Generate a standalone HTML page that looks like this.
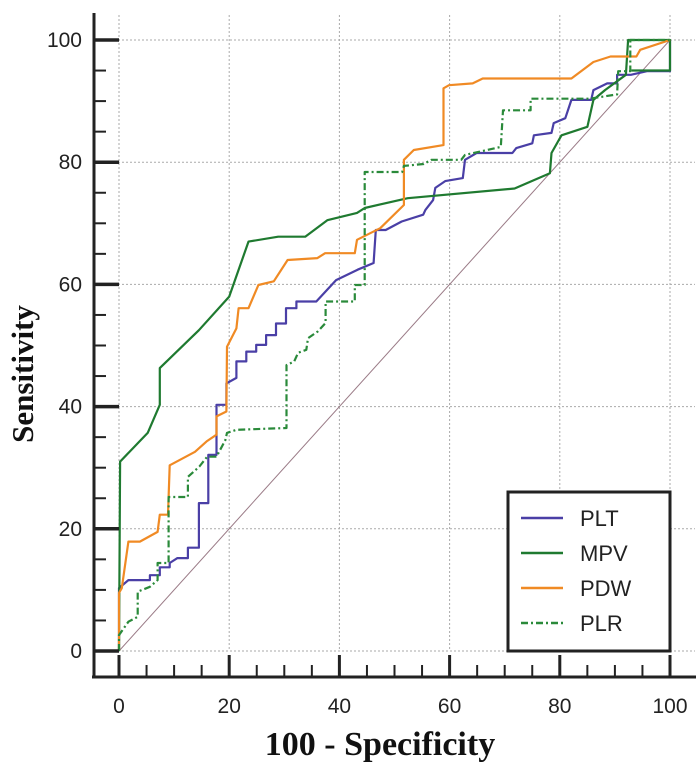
<!DOCTYPE html>
<html><head><meta charset="utf-8"><style>
html,body{margin:0;padding:0;background:#fff;}
svg{display:block;}
</style></head><body>
<svg id="chart" width="700" height="773" viewBox="0 0 700 773" xmlns="http://www.w3.org/2000/svg">
<g id="grid"></g>
<line id="diag" stroke="#9a7a86" stroke-width="1"/>
<g id="series"></g>
<g id="axes"></g>
<text transform="translate(33,374) rotate(-90)" text-anchor="middle" font-family="Liberation Serif, serif" font-weight="bold" font-size="31" fill="#111">Sensitivity</text>
<text x="380" y="755" text-anchor="middle" font-family="Liberation Serif, serif" font-weight="bold" font-size="34" fill="#111">100 - Specificity</text>
<g id="legend">
<rect x="508" y="492" width="162" height="159" fill="#fff" stroke="#222" stroke-width="3"/>
</g>
</svg>
<script>
const xTicks = [0,20,40,60,80,100];
const yTicks = [0,20,40,60,80,100];
const seriesNames = ["PLT","MPV","PDW","PLR"];
const pltX = [0,0,1.7,5.6,5.6,7.4,7.4,9.2,9.2,10.6,12.5,12.5,14.5,14.5,16.2,16.2,17.7,17.7,19.5,19.5,21.3,21.3,23.1,23.1,24.9,24.9,26.7,26.7,28.5,28.5,30.3,30.3,32.2,32.2,35.8,39.4,43.3,46.2,46.6,48.4,51.3,55.2,55.6,57.0,57.4,59.2,62.4,62.8,64.9,71.4,72.1,75.0,75.3,78.5,78.9,81.0,82.1,85.7,86.1,88.6,90.4,90.4,92.9,95.8,100,100];
const pltY = [0,10.3,11.6,11.6,12.4,12.4,13.7,13.7,14.4,15.2,15.2,16.9,16.9,24.2,24.2,32.1,32.1,40.3,40.3,43.8,44.7,47.4,47.4,49,49,50.1,50.1,51.7,51.7,53.6,53.6,56.1,56.1,57.2,57.2,60.7,62.4,63.5,68.9,68.9,70.3,71.4,72.2,73.8,75.8,76.9,77.4,80.4,81.5,81.5,82.3,83.1,84.4,84.8,86.4,87.2,90.2,90.2,91.8,92.9,92.9,94.3,94.3,94.9,94.9,100];
const mpvX = [0,0.2,5.2,7.4,7.4,14.5,20,23.5,28.9,33.8,37.8,43.2,44.6,52.4,71.8,78.2,78.5,80.3,85,86.1,88.2,92,92.4,100,100,93];
const mpvY = [0,31,35.7,40.3,46.3,52.5,58,67,67.8,67.8,70.5,71.7,72.5,74.1,75.7,78.2,81.5,84.4,85.8,90.2,91.8,94.3,100,100,95,95];
const pdwX = [0,0,0.5,1.7,3.8,7,7.4,8.9,9.2,13.8,15.9,17.7,17.7,19.5,19.6,21.3,21.7,23.5,25.3,28.1,30.6,36,37.4,42.8,43.2,47.4,51.7,51.7,53.5,58.9,58.9,59.9,64.2,66,82.1,86.1,89.2,93.9,94.6,100];
const pdwY = [0,9.5,10.3,17.9,17.9,19.5,22.3,22.3,30.4,32.6,34.3,35.4,38.4,39.2,49.8,52.8,56.1,56.1,59.9,60.5,64,64.3,65.1,65.1,67.3,69.2,73,80.4,82,82.8,92.1,92.6,92.9,93.7,93.7,96.4,97.3,97.3,98.4,100];
const plrX = [0,0,1.7,3.4,3.4,5.6,7,7,9,9,12.5,12.5,14.6,16,17.7,19.3,19.6,21.3,30.4,30.4,31.8,32.5,34,34.3,36.1,37.5,37.5,42.8,42.8,44.6,44.6,51.4,51.7,55.3,56.7,62.1,62.8,69.3,69.7,74.7,74.7,85.4,90.4,90.6,92.8,92.8,100];
const plrY = [0,2.6,4.8,5.6,9.7,10.5,11.6,14.4,14.4,25.2,25.2,28.5,30.2,31.8,31.8,34.5,35.7,36.2,36.5,46.8,47.4,48.8,49.3,51.2,52.3,53.7,57.2,57.2,59.9,59.9,78.4,78.4,79.4,79.7,80.4,80.4,81.2,82.5,88.5,88.5,90.4,90.4,91.1,94.9,94.9,100,100];

const X0=119, X1=670, Y0=651, Y1=40;
function sx(v){return X0+(X1-X0)*v/100;}
function sy(v){return Y0-(Y0-Y1)*v/100;}
const NS="http://www.w3.org/2000/svg";
function mk(tag,attrs,parent){const e=document.createElementNS(NS,tag);for(const k in attrs)e.setAttribute(k,attrs[k]);parent.appendChild(e);return e;}

const grid=document.getElementById('grid');
xTicks.forEach(t=>{const l=mk('line',{x1:sx(t),x2:sx(t),y1:15,y2:Y0,stroke:'#aaa','stroke-width':1,'stroke-dasharray':'2,2'},grid);

});
yTicks.forEach(t=>{const l=mk('line',{x1:94,x2:695,y1:sy(t),y2:sy(t),stroke:'#aaa','stroke-width':1,'stroke-dasharray':'2,2'},grid);

});

const d=document.getElementById('diag');
d.setAttribute('x1',sx(0));d.setAttribute('y1',sy(0));d.setAttribute('x2',sx(100));d.setAttribute('y2',sy(100));

const sg=document.getElementById('series');
function pts(xs,ys){return xs.map((x,i)=>sx(x).toFixed(1)+','+sy(ys[i]).toFixed(1)).join(' ');}
const specs=[
 {name:'PLT',xs:pltX,ys:pltY,c:'#4a3fa6',dash:''},
 {name:'MPV',xs:mpvX,ys:mpvY,c:'#1f7a30',dash:''},
 {name:'PDW',xs:pdwX,ys:pdwY,c:'#f08a24',dash:''},
 {name:'PLR',xs:plrX,ys:plrY,c:'#2a8a3a',dash:'7,3,2,3'}
];
specs.forEach(s=>{const p=mk('polyline',{points:pts(s.xs,s.ys),fill:'none',stroke:s.c,'stroke-width':2.2,'stroke-dasharray':s.dash,'stroke-linejoin':'round'},sg);

});

const ax=document.getElementById('axes');
const la=mk('line',{x1:94,x2:94,y1:13,y2:678,stroke:'#222','stroke-width':3},ax);


const ba=mk('line',{x1:92,x2:696,y1:677,y2:677,stroke:'#222','stroke-width':3},ax);


for(let v=0;v<=100;v+=5){
 const major=v%20===0;
 const ty=mk('line',{x1:94,x2:major?119:106,y1:sy(v),y2:sy(v),stroke:'#222','stroke-width':major?3.5:2},ax);
 
 
 const tx=mk('line',{x1:sx(v),x2:sx(v),y1:677,y2:major?655:665,stroke:'#222','stroke-width':major?3:2},ax);
 
 
}
yTicks.forEach(t=>{const e=mk('text',{x:82,y:sy(t)+7,'text-anchor':'end','font-family':'Liberation Sans, sans-serif','font-size':21,fill:'#222'},ax);e.textContent=t;

});
xTicks.forEach(t=>{const e=mk('text',{x:sx(t),y:713,'text-anchor':'middle','font-family':'Liberation Sans, sans-serif','font-size':21,fill:'#222'},ax);e.textContent=t;

});

const lg=document.getElementById('legend');
specs.forEach((s,i)=>{const y=518+i*35;
 const l=mk('line',{x1:521,x2:563,y1:y,y2:y,stroke:s.c,'stroke-width':2.5,'stroke-dasharray':s.dash},lg);
 
 
 const t=mk('text',{x:580,y:y+8,'font-family':'Liberation Sans, sans-serif','font-size':22,fill:'#222'},lg);t.textContent=s.name;
 
 
});
</script>
</body></html>
